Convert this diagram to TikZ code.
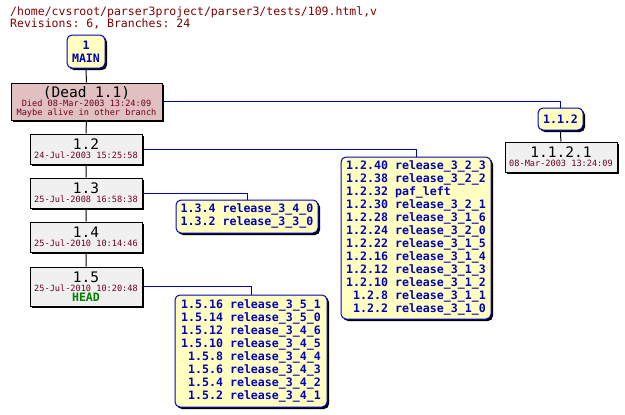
\documentclass[tikz,border=0pt]{standalone}
\usepackage{fontspec}
\setmonofont{DejaVu Sans Mono}
\usepackage{xcolor}
\usetikzlibrary{shadows}
\definecolor{cvsblue}{HTML}{0000C0}
\definecolor{cvsred}{HTML}{800000}
\definecolor{cvsdate}{HTML}{700020}
\definecolor{cvsgreen}{HTML}{008000}
\definecolor{revgrey}{HTML}{F0F0F0}
\definecolor{tagyellow}{HTML}{FFFFC0}
\definecolor{deadpink}{HTML}{E0C0C0}
\newcommand\cvstitle{\fontsize{11.5}{13}\selectfont\ttfamily}
\newcommand\cvsrev{\fontsize{14.5}{15}\selectfont\ttfamily}
\newcommand\cvsdatef{\fontsize{8.6}{9}\selectfont\ttfamily}
\newcommand\cvstag{\fontsize{11.6}{13}\selectfont\ttfamily\bfseries}
\tikzset{
  every picture/.style = {
    x=1pt, y=-1pt
  },
  boxshadow/.style={
    drop shadow={shadow xshift=2pt, shadow yshift=-2pt, opacity=1, fill=black}
  },
  titletext/.style={
    anchor=base west,
    inner sep=0pt,
    text=cvsred,
    font=\cvstitle
  },
  revbox/.style={
    draw,
    fill=revgrey,
    line width=1pt,
    boxshadow,
    minimum width=112pt,
    minimum height=30pt,
    inner sep=1pt,
    align=center,
    text=cvsdate,
    font=\cvsdatef
  },
  deadbox/.style={
    revbox,
    fill=deadpink,
    minimum width=151pt,
    minimum height=37pt
  },
  tagbox/.style={
    draw=cvsblue,
    fill=tagyellow,
    line width=1pt,
    rounded corners=5pt,
    boxshadow,
    inner xsep=4pt,
    inner ysep=2pt,
    align=center,
    text=cvsblue,
    font=\cvstag
  },
  trunk/.style={
    draw=black,
    line width=1pt
  },
  branch/.style={
    draw=cvsblue,
    line width=1pt
  }
}

\begin{document}
\begin{tikzpicture}
    \useasboundingbox (0,0) rectangle (625,415);
    \node[titletext] (path) at (10,15.5) {/home/cvsroot/parser3project/parser3/tests/109.html,v};
    \node[titletext] (revs) at (10,27.5) {Revisions: 6, Branches: 24};

    % trunk
    \node[tagbox, minimum width=38pt, minimum height=33pt] (main) at (86,51.5) {1\\MAIN};
    \node[deadbox] (dead) at (86.5,101.5) {{\cvsrev\color{black}(Dead 1.1)}\\Died 08-Mar-2003 13:24:09\\Maybe alive in other branch};
    \node[revbox] (r12) at (86,149) {{\cvsrev\color{black}1.2}\\24-Jul-2003 15:25:58};
    \node[revbox] (r13) at (86,193) {{\cvsrev\color{black}1.3}\\25-Jul-2008 16:58:38};
    \node[revbox] (r14) at (86,237) {{\cvsrev\color{black}1.4}\\25-Jul-2010 10:14:46};
    \node[revbox, minimum height=39pt] (r15) at (86,286.5) {{\cvsrev\color{black}1.5}\\25-Jul-2010 10:20:48\\[1.5pt]{\cvstag\color{cvsgreen}HEAD}};

    % branch 1.1.2
    \node[tagbox, minimum width=45pt, minimum height=22pt] (b112) at (560.5,119) {1.1.2};
    \node[revbox] (r1121) at (561,157) {{\cvsrev\color{black}1.1.2.1}\\08-Mar-2003 13:24:09};

    % tags
    \node[tagbox, minimum width=150pt, minimum height=162pt] (t12) at (416,238) {%
      \begin{tabular}{@{}r@{\ }l@{}}
        1.2.40 & release\_3\_2\_3\\
        1.2.38 & release\_3\_2\_2\\
        1.2.32 & paf\_left\\
        1.2.30 & release\_3\_2\_1\\
        1.2.28 & release\_3\_1\_6\\
        1.2.24 & release\_3\_2\_0\\
        1.2.22 & release\_3\_1\_5\\
        1.2.16 & release\_3\_1\_4\\
        1.2.12 & release\_3\_1\_3\\
        1.2.10 & release\_3\_1\_2\\
        1.2.8 & release\_3\_1\_1\\
        1.2.2 & release\_3\_1\_0
      \end{tabular}};
    \node[tagbox, minimum width=142pt, minimum height=33pt] (t13) at (247,216.5) {%
      \begin{tabular}{@{}r@{\ }l@{}}
        1.3.4 & release\_3\_4\_0\\
        1.3.2 & release\_3\_3\_0
      \end{tabular}};
    \node[tagbox, minimum width=152pt, minimum height=112pt] (t15) at (251,351) {%
      \begin{tabular}{@{}r@{\ }l@{}}
        1.5.16 & release\_3\_5\_1\\
        1.5.14 & release\_3\_5\_0\\
        1.5.12 & release\_3\_4\_6\\
        1.5.10 & release\_3\_4\_5\\
        1.5.8 & release\_3\_4\_4\\
        1.5.6 & release\_3\_4\_3\\
        1.5.4 & release\_3\_4\_2\\
        1.5.2 & release\_3\_4\_1
      \end{tabular}};

    % connectors
    \draw[trunk] (main) -- (dead) -- (r12) -- (r13) -- (r14) -- (r15);
    \draw[trunk] (b112) -- (r1121);
    \draw[branch] (dead) -| (b112);
    \draw[branch] (r12) -| (t12);
    \draw[branch] (r13) -| (t13);
    \draw[branch] (r15) -| (t15);
\end{tikzpicture}
\end{document}
